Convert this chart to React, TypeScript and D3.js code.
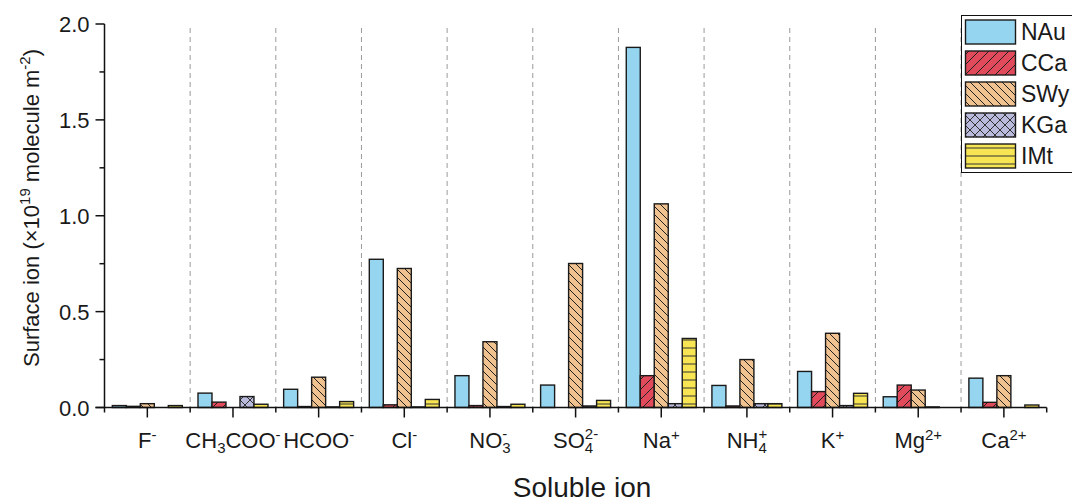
import React from 'react';
import * as d3 from 'd3';

// soluble ions on the x axis
const ions = ['F-', 'CH3COO-', 'HCOO-', 'Cl-', 'NO3-', 'SO42-', 'Na+', 'NH4+', 'K+', 'Mg2+', 'Ca2+'];

// tick label pieces: [text, kind] kind = '' | 'sub' | 'sup' | 'stack' (sub then sup on top)
const ionLabels: [string, string, string?][][] = [
  [['F', ''], ['-', 'sup']],
  [['CH', ''], ['3', 'sub'], ['COO', ''], ['-', 'sup']],
  [['HCOO', ''], ['-', 'sup']],
  [['Cl', ''], ['-', 'sup']],
  [['NO', ''], ['3', 'stack', '-']],
  [['SO', ''], ['4', 'stack', '2-']],
  [['Na', ''], ['+', 'sup']],
  [['NH', ''], ['4', 'stack', '+']],
  [['K', ''], ['+', 'sup']],
  [['Mg', ''], ['2+', 'sup']],
  [['Ca', ''], ['2+', 'sup']],
];

const seriesNames = ['NAu', 'CCa', 'SWy', 'KGa', 'IMt'];

const nau = [0.01, 0.075, 0.095, 0.773, 0.166, 0.117, 1.878, 0.115, 0.188, 0.056, 0.153];
const cca = [0.006, 0.028, 0.005, 0.014, 0.01, 0.0, 0.166, 0.008, 0.083, 0.117, 0.027];
const swy = [0.02, 0.0, 0.158, 0.725, 0.343, 0.751, 1.062, 0.25, 0.387, 0.091, 0.166];
const kga = [0.0, 0.057, 0.003, 0.003, 0.005, 0.008, 0.02, 0.02, 0.01, 0.003, 0.0];
const imt = [0.01, 0.017, 0.031, 0.042, 0.017, 0.037, 0.36, 0.02, 0.074, 0.0, 0.013];

const yTicks = [0, 0.5, 1.0, 1.5, 2.0];

const fills = ['#96d5f0', 'url(#hatchCCa)', 'url(#hatchSWy)', 'url(#hatchKGa)', 'url(#hatchIMt)'];

const font = 'Liberation Sans, Arial, sans-serif';

function TickLabel({ parts, x, y }: { parts: [string, string, string?][]; x: number; y: number }) {
  const fs = 22;
  const small = 15;
  return (
    <text x={x} y={y} textAnchor="middle" fontSize={fs} fontFamily={font} fill="#1a1a1a">
      {parts.map((p, i) => {
        if (p[1] === 'sub')
          return <tspan key={i} fontSize={small} dy={5}>{p[0]}</tspan>;
        if (p[1] === 'sup') {
          const prevSub = i > 0 && parts[i - 1][1] === 'sub';
          return <tspan key={i} fontSize={small} dy={prevSub ? -13 : -8}>{p[0]}</tspan>;
        }
        if (p[1] === 'stack')
          return (
            <React.Fragment key={i}>
              <tspan fontSize={small} dy={5}>{p[0]}</tspan>
              <tspan fontSize={small} dx={-small * 0.556} dy={-14}>{p[2]}</tspan>
            </React.Fragment>
          );
        const prev = i > 0 ? parts[i - 1][1] : '';
        return <tspan key={i} dy={prev === 'sub' ? -5 : 0}>{p[0]}</tspan>;
      })}
    </text>
  );
}

export default function App() {
  const width = 1072;
  const height = 502;
  const left = 104.5;
  const right = 1046.7;
  const top = 24;
  const bottom = 407.5;

  const values = [nau, cca, swy, kga, imt];

  const x = d3.scaleBand().domain(ions).range([left, right]).paddingInner(0).paddingOuter(0);
  const xs = d3.scaleBand().domain(seriesNames).range([0, x.bandwidth()]).paddingInner(0).paddingOuter(0.56);
  const y = d3.scaleLinear().domain([0, 2]).range([bottom, top]);
  const minorY = d3.range(0.25, 2, 0.5);

  return (
    <svg width={width} height={height} style={{ position: 'absolute', left: 0, top: 0, background: '#fff' }}>
      <defs>
        <pattern id="hatchCCa" patternUnits="userSpaceOnUse" width={10} height={10}>
          <rect width={10} height={10} fill="#e04a5a" />
          <path d="M-2,12 L12,-2 M-2,2 L2,-2 M8,12 L12,8" stroke="#222" strokeWidth={1} />
        </pattern>
        <pattern id="hatchSWy" patternUnits="userSpaceOnUse" width={8} height={8}>
          <rect width={8} height={8} fill="#f0c290" />
          <path d="M-2,-2 L10,10 M6,-2 L10,2 M-2,6 L2,10" stroke="#222" strokeWidth={1} />
        </pattern>
        <pattern id="hatchKGa" patternUnits="userSpaceOnUse" width={10} height={10}>
          <rect width={10} height={10} fill="#b9badc" />
          <path d="M-2,-2 L12,12 M-2,12 L12,-2 M8,-2 L12,2 M-2,8 L2,12 M-2,2 L2,-2 M8,12 L12,8" stroke="#222" strokeWidth={0.9} />
        </pattern>
        <pattern id="hatchIMt" patternUnits="userSpaceOnUse" width={8} height={8}>
          <rect width={8} height={8} fill="#f8e553" />
          <path d="M0,4 L8,4" stroke="#333" strokeWidth={1} />
        </pattern>
      </defs>

      {/* dashed group separators */}
      {ions.slice(1).map((ion) => (
        <line key={ion} x1={x(ion)!} x2={x(ion)!} y1={top + 4} y2={bottom} stroke="#9a9a9a" strokeDasharray="5,4" strokeWidth={1} />
      ))}

      {/* bars */}
      {values.map((vals, si) =>
        vals.map((v, i) =>
          v > 0 ? (
            <rect
              key={si + '-' + i}
              x={x(ions[i])! + xs(seriesNames[si])!}
              y={y(v)}
              width={xs.bandwidth()}
              height={bottom - y(v)}
              fill={fills[si]}
              stroke="#1a1a1a"
              strokeWidth={1.4}
            />
          ) : null
        )
      )}

      {/* y axis */}
      <line x1={left} x2={left} y1={top} y2={bottom} stroke="#111" strokeWidth={1.5} />
      {yTicks.map((t) => (
        <g key={t}>
          <line x1={left - 9} x2={left} y1={y(t)} y2={y(t)} stroke="#111" strokeWidth={1.5} />
          <text x={left - 15} y={y(t) + 8} textAnchor="end" fontSize={22} fontFamily={font} fill="#1a1a1a">
            {t.toFixed(1)}
          </text>
        </g>
      ))}
      {minorY.map((t) => (
        <line key={t} x1={left - 5} x2={left} y1={y(t)} y2={y(t)} stroke="#111" strokeWidth={1.5} />
      ))}

      {/* x axis */}
      <line x1={left - 9} x2={right} y1={bottom} y2={bottom} stroke="#111" strokeWidth={1.5} />
      {ions.map((ion) => (
        <line key={ion} x1={x(ion)!} x2={x(ion)!} y1={bottom} y2={bottom + 5} stroke="#111" strokeWidth={1.5} />
      ))}
      <line x1={right} x2={right} y1={bottom} y2={bottom + 5} stroke="#111" strokeWidth={1.5} />
      {ions.map((ion, i) => {
        const cx = x(ion)! + x.bandwidth() / 2;
        return (
          <g key={ion}>
            <line x1={cx} x2={cx} y1={bottom} y2={bottom + 10} stroke="#111" strokeWidth={1.5} />
            <TickLabel parts={ionLabels[i]} x={cx} y={448} />
          </g>
        );
      })}

      {/* axis titles */}
      <text x={582} y={497} textAnchor="middle" fontSize={28} fontFamily={font} fill="#1a1a1a">
        Soluble ion
      </text>
      <text transform="translate(39,208) rotate(-90)" textAnchor="middle" fontSize={22} fontFamily={font} fill="#1a1a1a">
        Surface ion (×10<tspan fontSize={15} dy={-9}>19</tspan>
        <tspan dy={9}> molecule m</tspan>
        <tspan fontSize={15} dy={-9}>-2</tspan>
        <tspan dy={9}>)</tspan>
      </text>

      {/* legend */}
      <rect x={961.5} y={15.5} width={130} height={157} fill="#fff" stroke="#111" strokeWidth={1} />
      {seriesNames.map((s, i) => (
        <g key={s}>
          <rect x={965.5} y={20 + i * 31} width={50} height={24} fill={fills[i]} stroke="#1a1a1a" strokeWidth={1.4} />
          <text x={1021} y={40 + i * 31} fontSize={23} fontFamily={font} fill="#1a1a1a">
            {s}
          </text>
        </g>
      ))}
    </svg>
  );
}
